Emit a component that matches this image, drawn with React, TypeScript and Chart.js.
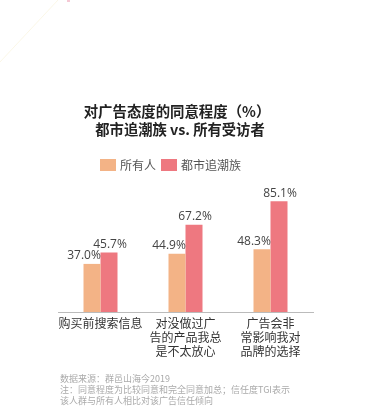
import React, { useEffect, useRef } from "react";
import { Chart, registerables } from "chart.js";

Chart.register(...registerables);

const categories: (string | string[])[] = [
  "购买前搜索信息",
  ["对没做过广", "告的产品我总", "是不太放心"],
  ["广告会非", "常影响我对", "品牌的选择"],
];
const seriesNames = ["所有人", "都市追潮族"];
const allPeople = [37.0, 44.9, 48.3];
const trendsetters = [45.7, 67.2, 85.1];
const titleLines = ["对广告态度的同意程度（%）", "都市追潮族 vs. 所有受访者"];
const footnotes = [
  "数据来源：群邑山海今2019",
  "注：同意程度为比较同意和完全同意加总；信任度TGI表示",
  "该人群与所有人相比对该广告信任倾向",
];

const FONT = "'Noto Sans CJK SC', 'Noto Sans', sans-serif";
const ORANGE = "#F3B386";
const RED = "#EE7880";

const decorPlugin = {
  id: "decor",
  afterDraw(chart: any) {
    const ctx = chart.ctx;
    ctx.save();
    // faint decorative stroke top-left
    ctx.strokeStyle = "rgba(240,225,160,0.25)";
    ctx.lineWidth = 1;
    ctx.beginPath();
    ctx.moveTo(0, 62);
    ctx.lineTo(58, 0);
    ctx.stroke();
    ctx.fillStyle = "rgba(230,120,150,0.4)";
    ctx.fillRect(67, 0, 3, 2);

    // title
    ctx.fillStyle = "#222";
    ctx.textAlign = "center";
    ctx.textBaseline = "middle";
    ctx.font = `bold 14.4px ${FONT}`;
    ctx.fillText(titleLines[0], 177, 112);
    ctx.font = `bold 14.3px ${FONT}`;
    ctx.fillText(titleLines[1], 180, 130);

    // legend
    ctx.font = `12px ${FONT}`;
    ctx.textAlign = "left";
    const colors = [ORANGE, RED];
    const xs = [100, 161];
    seriesNames.forEach((name, i) => {
      ctx.fillStyle = colors[i];
      ctx.fillRect(xs[i], 159, 16, 12);
      ctx.fillStyle = "#555";
      ctx.fillText(name, xs[i] + 20, 165.5);
    });

    // footnotes
    ctx.fillStyle = "#aaa";
    ctx.font = `9px ${FONT}`;
    footnotes.forEach((t, i) => {
      ctx.fillText(t, 60, 379 + i * 11);
    });
    ctx.restore();
  },
  afterDatasetsDraw(chart: any) {
    const ctx = chart.ctx;
    ctx.save();
    ctx.font = `12px 'Open Sans', 'Noto Sans', sans-serif`;
    ctx.fillStyle = "#444";
    ctx.textAlign = "center";
    ctx.textBaseline = "middle";
    chart.data.datasets.forEach((ds: any, di: number) => {
      const meta = chart.getDatasetMeta(di);
      meta.data.forEach((el: any, i: number) => {
        const v = ds.data[i];
        const dx = di === 0 ? -8 : 1;
        ctx.fillText(v.toFixed(1) + "%", el.x + dx, el.y - 8);
      });
    });
    ctx.restore();
  },
};

export default function App() {
  const ref = useRef<HTMLCanvasElement>(null);
  useEffect(() => {
    if (!ref.current) return;
    const chart = new Chart(ref.current, {
      type: "bar",
      data: {
        labels: categories,
        datasets: [
          { label: seriesNames[0], data: allPeople, backgroundColor: ORANGE },
          { label: seriesNames[1], data: trendsetters, backgroundColor: RED },
        ],
      },
      options: {
        animation: false,
        responsive: true,
        maintainAspectRatio: false,
        layout: { padding: { left: 58, right: 52, top: 182, bottom: 0 } },
        plugins: {
          legend: { display: false },
          title: { display: false },
          tooltip: { enabled: false },
        },
        datasets: {
          bar: { barPercentage: 1, categoryPercentage: 0.4 },
        },
        scales: {
          x: {
            grid: { display: false, drawTicks: false },
            border: { display: true, color: "#bbb", width: 1 },
            ticks: {
              color: "#333",
              padding: 4,
              maxRotation: 0,
              autoSkip: false,
              font: { family: FONT, size: 12, lineHeight: 1.17 },
            },
            afterFit(scale: any) {
              scale.height = 104;
            },
          },
          y: { display: false, min: 0, max: 100 },
        },
      },
      plugins: [decorPlugin],
    });
    return () => chart.destroy();
  }, []);
  return (
    <div style={{ position: "absolute", left: 0, top: 0, width: 365, height: 416, background: "#fff" }}>
      <canvas ref={ref} />
    </div>
  );
}
